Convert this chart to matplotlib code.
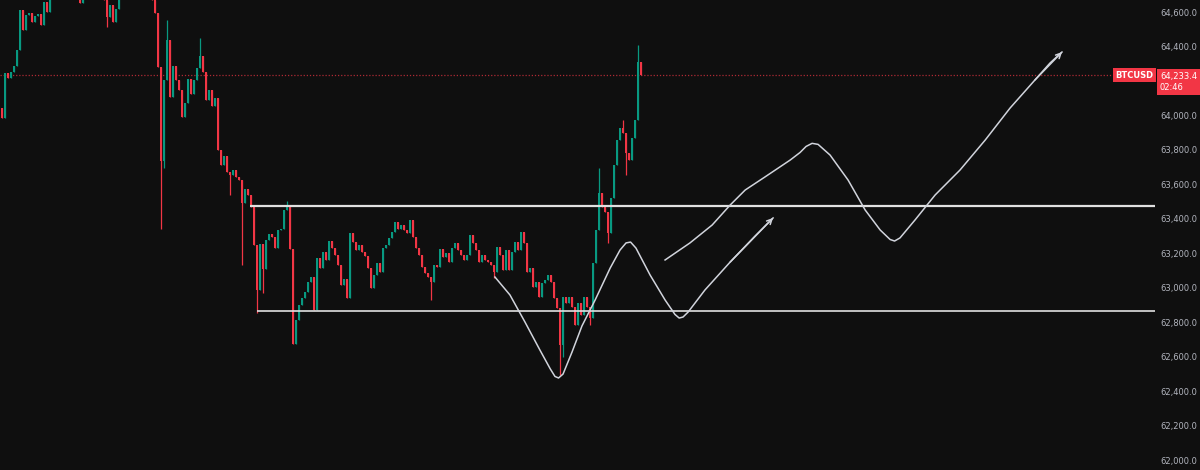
import matplotlib.pyplot as plt
from matplotlib.transforms import blended_transform_factory

# BTCUSD candles, one per bar index (open = previous close)
first_open = 64043
closes = [
    63985, 64246, 64217, 64252, 64287, 64380, 64612, 64496, 64583, 64594,
    64542, 64577, 64589, 64525, 64658, 64600, 64728, 64786, 64844, 64815,
    64902, 64873, 64960, 64931, 64844, 64757, 64652, 64699, 64786, 64844,
    64902, 64873, 64815, 64757, 64670, 64571, 64641, 64542, 64618, 64699,
    64786, 64873, 64931, 64902, 64960, 64931, 64873, 64844, 64815, 64786,
    64670, 64594, 64281, 63735, 64206, 64438, 64107, 64287, 64206, 64147,
    63991, 64072, 64211, 64124, 64206, 64275, 64345, 64252, 64089, 64147,
    64055, 64101, 63799, 63712, 63764, 63672, 63654, 63683, 63642, 63625,
    63492, 63573, 63538, 63468, 63248, 62987, 63254, 63109, 63277, 63312,
    63294, 63230, 63335, 63341, 63451, 63474, 63225, 62673, 62813, 62900,
    62940, 62975, 63033, 63062, 62871, 63172, 63114, 63207, 63161, 63271,
    63230, 63190, 63132, 63016, 63050, 62940, 63317, 63265, 63219, 63248,
    63207, 63184, 63114, 62998, 63074, 63143, 63091, 63230, 63248, 63288,
    63323, 63381, 63341, 63364, 63335, 63317, 63393, 63294, 63230, 63190,
    63120, 63085, 63062, 63033, 63132, 63120, 63225, 63178, 63201, 63149,
    63230, 63259, 63219, 63190, 63161, 63190, 63306, 63259, 63219, 63149,
    63190, 63161, 63149, 63132, 63091, 63236, 63190, 63103, 63219, 63103,
    63207, 63265, 63219, 63323, 63259, 63091, 63114, 63004, 63033, 62946,
    63027, 63045, 63074, 63033, 62940, 62882, 62667, 62946, 62911, 62946,
    62888, 62784, 62911, 62842, 62946, 62888, 62824, 63143, 63335, 63550,
    63468, 63439, 63317, 63521, 63712, 63857, 63927, 63898, 63782, 63741,
    63869, 63973, 64310, 64233.4,
]
# wick extremes that stick out of the bodies
highs = {55: 64554, 66: 64449, 95: 63503, 199: 63695, 207: 63973, 212: 64409}
lows = {35: 64513, 53: 63341, 54: 63695, 76: 63538, 80: 63132, 85: 62853,
        87: 62969, 143: 62929, 164: 63056, 186: 62493, 187: 62598,
        196: 62784, 202: 63259, 208: 63654}

last_price = 64233.4
countdown = '02:46'
range_top, range_top_start = 63474, 82.7
range_bottom, range_bottom_start = 62865, 85.0

# hand drawn scenarios (bar index, price)
path1_x = [164.3, 169.3, 174.3, 179.3, 182.7, 184.3, 185.5, 187.0, 190.0,
           193.3, 197.7, 202.7, 206.0, 208.0, 209.5, 211.3, 216.0, 221.0,
           224.3, 225.7, 227.0, 228.7, 234.3, 242.7, 251.0, 257.0]
path1_y = [63062, 62958, 62801, 62638, 62530, 62485, 62476, 62499, 62627,
           62778, 62929, 63114, 63219, 63260, 63265, 63230, 63074, 62929,
           62845, 62824, 62830, 62859, 62987, 63149, 63300, 63405]
path2_x = [221.0, 229.3, 236.7, 242.7, 247.7, 254.3, 262.7, 266.0, 268.0,
           270.0, 272.0, 276.0, 282.0, 287.7, 292.7, 296.0, 297.5, 299.3,
           304.3, 311.0, 319.3, 327.7, 336.0, 344.3, 349.3, 353.3]
path2_y = [63161, 63260, 63364, 63480, 63567, 63643, 63741, 63785, 63820,
           63838, 63832, 63770, 63625, 63451, 63335, 63280, 63271, 63289,
           63393, 63538, 63683, 63857, 64043, 64206, 64304, 64368]
# 64,200 sits under the last-price label, so it is not shown
yticks = [62000, 62200, 62400, 62600, 62800, 63000, 63200, 63400, 63600,
          63800, 64000, 64400, 64600]

bg = '#0f0f0f'
up = '#089981'
down = '#f23645'
draw = '#d1d4dc'

fig = plt.figure(figsize=(12, 4.7), dpi=100, facecolor=bg)
ax = fig.add_axes([0, 0, 1155 / 1200, 1])
ax.set_facecolor(bg)

opens = [first_open] + closes[:-1]
for i, (o, c) in enumerate(zip(opens, closes)):
    col = up if c >= o else down
    lo = min(o, c)
    hi = max(o, c)
    h = highs.get(i, hi)
    l = lows.get(i, lo)
    ax.vlines(i, l, h, color=col, lw=0.9, zorder=2)
    ax.bar(i, max(hi - lo, 4), bottom=lo, width=0.85, color=col,
           linewidth=0, zorder=3)

# range lines
ax.plot([range_top_start, 400], [range_top, range_top], color='#e0e0e0',
        lw=1.6, zorder=4, solid_capstyle='butt')
ax.plot([range_bottom_start, 400], [range_bottom, range_bottom],
        color='#e0e0e0', lw=1.2, zorder=4, solid_capstyle='butt')

# last price line
ax.axhline(last_price, color=down, lw=0.9, ls=(0, (1, 1.5)), alpha=0.7,
           zorder=1)

for px, py in [(path1_x, path1_y), (path2_x, path2_y)]:
    ax.plot(px, py, color=draw, lw=1.1, zorder=5, solid_joinstyle='round')
    ax.annotate('', xy=(px[-1], py[-1]), xytext=(px[-3], py[-3]),
                arrowprops=dict(arrowstyle='->', color=draw, lw=1.1,
                                mutation_scale=9, shrinkA=0, shrinkB=0),
                zorder=5)

ax.set_xlim(-0.67, 384.3)
ax.set_ylim(61942, 64670)

ax.yaxis.tick_right()
ax.set_yticks(yticks)
ax.set_yticklabels([f'{v:,.1f}' for v in yticks])
ax.tick_params(axis='y', length=0, pad=4, labelsize=6, labelcolor='#b2b5be')
ax.set_xticks([])
for s in ax.spines.values():
    s.set_visible(False)

# symbol and price labels
tr = blended_transform_factory(ax.transAxes, ax.transData)
ax.text(0.9985, last_price, 'BTCUSD', transform=tr, ha='right', va='center',
        fontsize=6, fontweight='bold', color='white', zorder=6,
        bbox=dict(boxstyle='square,pad=0.3', fc=down, ec='none'))
# red box behind price + countdown
fig.patches.append(plt.Rectangle((1157 / 1200, 1 - 95 / 470), 43 / 1200,
                                 26 / 470, transform=fig.transFigure,
                                 fc=down, ec='none', zorder=5))
fig.text(1160 / 1200, 1 - 76 / 470, f'{last_price:,.1f}', ha='left',
         va='center', fontsize=6, color='white', zorder=6)
fig.text(1160 / 1200, 1 - 88 / 470, countdown, ha='left', va='center',
         fontsize=6, color='white', zorder=6)

fig.savefig('out.png', dpi=100, facecolor=bg)
